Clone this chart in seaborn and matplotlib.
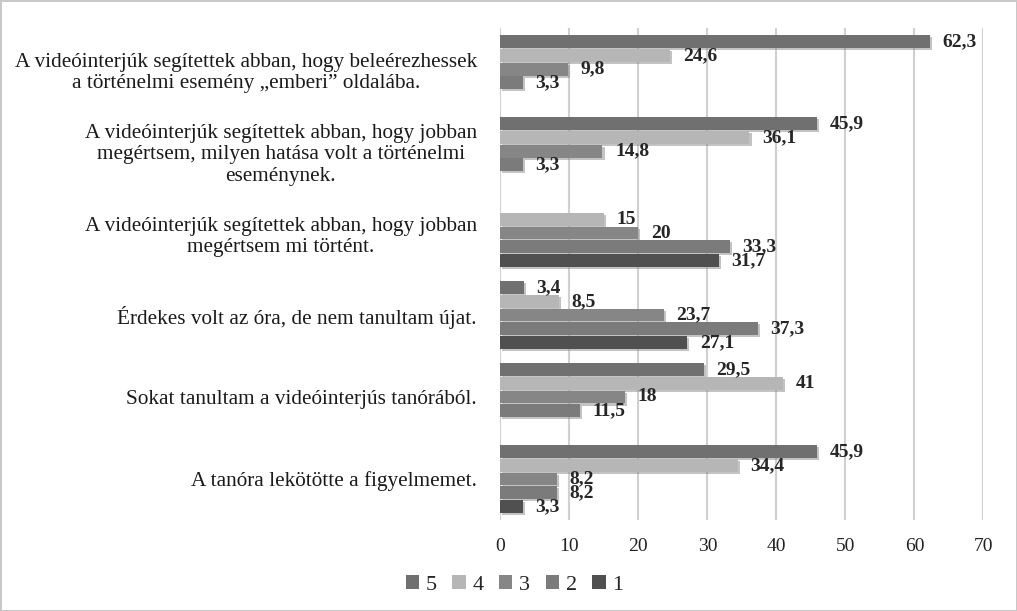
import numpy as np
import pandas as pd
import seaborn as sns
import matplotlib.pyplot as plt
import matplotlib.patheffects as pe
from matplotlib.patches import Patch

categories = [
    "A videóinterjúk segítettek abban, hogy beleérezhessek\na történelmi esemény „emberi” oldalába.",
    "A videóinterjúk segítettek abban, hogy jobban\nmegértsem, milyen hatása volt a történelmi\neseménynek.",
    "A videóinterjúk segítettek abban, hogy jobban\nmegértsem mi történt.",
    "Érdekes volt az óra, de nem tanultam újat.",
    "Sokat tanultam a videóinterjús tanórából.",
    "A tanóra lekötötte a figyelmemet.",
]
series_names = ["5", "4", "3", "2", "1"]
s5 = [62.3, 45.9, np.nan, 3.4, 29.5, 45.9]
s4 = [24.6, 36.1, 15, 8.5, 41, 34.4]
s3 = [9.8, 14.8, 20, 23.7, 18, 8.2]
s2 = [3.3, 3.3, 33.3, 37.3, 11.5, 8.2]
s1 = [np.nan, np.nan, 31.7, 27.1, np.nan, 3.3]
xticks = [0, 10, 20, 30, 40, 50, 60, 70]

colors = ["#707070", "#b6b6b6", "#868686", "#7b7b7b", "#505050"]

rows = []
for name, vals in zip(series_names, [s5, s4, s3, s2, s1]):
    for c, v in zip(categories, vals):
        rows.append({"cat": c, "series": name, "value": v})
df = pd.DataFrame(rows)

sns.set_theme(style="white")
plt.rcParams["font.family"] = ["Liberation Serif", "DejaVu Serif"]

fig = plt.figure(figsize=(10.17, 6.11), dpi=100, edgecolor="#c8c8c8", linewidth=2)
ax = fig.add_axes([0.492, 0.149, 0.475, 0.805])

sns.barplot(data=df, y="cat", x="value", hue="series", hue_order=series_names,
            order=categories, orient="h", palette=colors, width=0.835, gap=0.06,
            saturation=1, ax=ax, legend=False, edgecolor="none")

shadow = [pe.SimplePatchShadow(offset=(1.5, -1.5), shadow_rgbFace="#888888", alpha=0.5), pe.Normal()]
for cont in ax.containers:
    for bar in cont:
        bar.set_path_effects(shadow)
    labels = []
    for v in cont.datavalues:
        if np.isnan(v):
            labels.append("")
        else:
            labels.append(f"{v:g}".replace(".", ","))
    ax.bar_label(cont, labels=labels, padding=9, fontsize=14, fontweight="bold",
                 color="#262626")

ax.set_xlim(0, 70)
ax.set_xticks(xticks)
ax.set_xticklabels([str(t) for t in xticks], fontsize=14, color="#222222")
ax.grid(axis="x", color="#d0d0d0", linewidth=1.5)
ax.set_axisbelow(True)
for s in ax.spines.values():
    s.set_visible(False)
ax.tick_params(axis="both", length=0)
ax.tick_params(axis="x", pad=13)
ax.tick_params(axis="y", pad=17)
for lab in ax.get_yticklabels():
    lab.set_fontsize(15.3)
    lab.set_multialignment("center")
    lab.set_color("#1a1a1a")
ax.set_xlabel("")
ax.set_ylabel("")

handles = [Patch(facecolor=c, edgecolor="none") for c in colors]
fig.legend(handles, series_names, loc="center", bbox_to_anchor=(0.506, 0.043), ncol=5,
           frameon=False, fontsize=16, handlelength=0.6, handleheight=0.6,
           handletextpad=0.3, columnspacing=0.7)

fig.savefig("out.png", dpi=100, edgecolor=fig.get_edgecolor())
